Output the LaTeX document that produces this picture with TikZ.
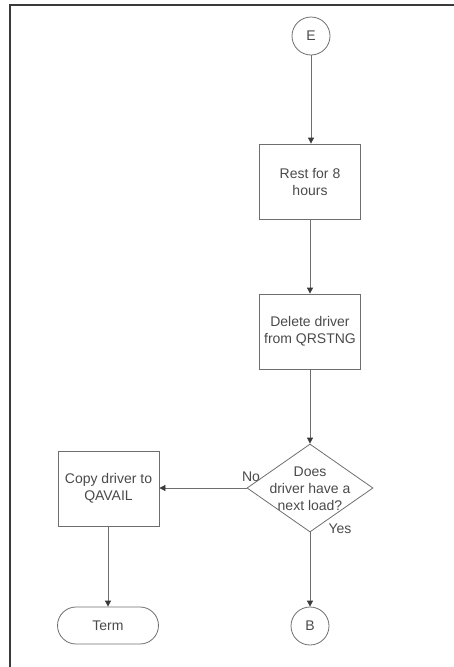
\documentclass[tikz,border=0pt]{standalone}
\usepackage{fontspec}
\setmainfont{Liberation Sans}
\usetikzlibrary{shapes.geometric,shapes.misc,arrows.meta}
\definecolor{linegray}{HTML}{6E6E6E}
\definecolor{textgray}{HTML}{4A4A4A}
\definecolor{framegray}{HTML}{3A3A3A}
\begin{document}
\begin{tikzpicture}[x=1pt,y=-1pt,
  every node/.style={text=textgray, font=\fontsize{14}{17}\selectfont},
  procbox/.style={draw=linegray, line width=0.8pt, rectangle, minimum width=101pt, minimum height=75pt, inner sep=0pt, align=center},
  connector/.style={draw=linegray, line width=0.8pt, circle, minimum size=38pt, inner sep=0pt},
  termbox/.style={draw=linegray, line width=0.8pt, rounded rectangle, minimum width=101pt, minimum height=37pt, inner sep=0pt},
  decision/.style={draw=linegray, line width=0.8pt, diamond, minimum width=126pt, minimum height=88pt, inner sep=0pt},
  flow/.style={draw=linegray, line width=0.8pt, -{Triangle[length=6pt,width=6pt,fill=framegray,color=framegray]}},
  lbl/.style={inner sep=0pt}
]
\useasboundingbox (0,0) rectangle (454,667);
\draw[framegray, line width=1.8pt] (10,667) coordinate (fl) -- (10,5) coordinate (fc) -- (454,5) coordinate (fr);

\node[connector] (E) at (311,36) {E};
\node[procbox] (rest) at (310,181.5) {Rest for 8\\hours};
\node[procbox] (del) at (310,331.5) {Delete driver\\from QRSTNG};
\node[decision] (dec) at (310,488) {};
\node[lbl, align=center] (dectext) at (310,489) {Does\\driver have a\\next load?};
\node[procbox] (copy) at (108.5,488.5) {Copy driver to\\QAVAIL};
\node[termbox] (term) at (108,625.5) {Term};
\node[connector] (B) at (310,626) {B};
\node[lbl] (no) at (251,477) {No};
\node[lbl] (yes) at (340,529) {Yes};

\draw[flow] (E.south) -- (rest.north -| E.south);
\draw[flow] (rest) -- (del);
\draw[flow] (del) -- (dec.north);
\draw[flow] (dec.west) -- (copy.east |- dec.west);
\draw[flow] (copy.south -| term.north) -- (term.north);
\draw[flow] (dec.south) -- (B.north);
\end{tikzpicture}
\end{document}
